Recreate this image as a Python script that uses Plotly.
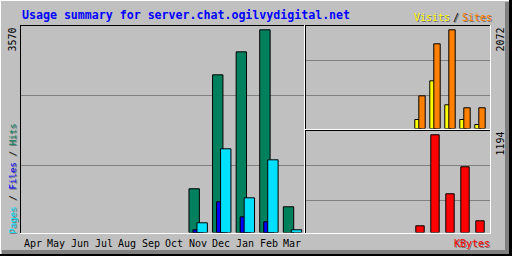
import plotly.graph_objects as go

# ---------------- data ----------------
months = ["Apr", "May", "Jun", "Jul", "Aug", "Sep", "Oct", "Nov", "Dec", "Jan", "Feb", "Mar"]
hits   = [None, None, None, None, None, None, None, 770, 2777, 3182, 3570, 453]
files  = [None, None, None, None, None, None, None, 48, 541, 276, 188, None]
pages  = [None, None, None, None, None, None, None, 171, 1474, 611, 1280, 48]
visits = [None, None, None, None, None, None, None, 189, 1001, 498, 189, 84]
sites  = [None, None, None, None, None, None, None, 686, 1778, 2072, 435, 435]
kbytes = [None, None, None, None, None, None, None, 82, 1194, 473, 803, 143]
max_hits, max_sites, max_kbytes = 3570, 2072, 1194
title = "Usage summary for server.chat.ogilvydigital.net"

# ---------------- style ----------------
W, H = 512, 256
BG = "#C0C0C0"
DK = "#808080"
SH = "#707070"
C_HITS, C_FILES, C_PAGES = "#00805C", "#0000FF", "#00E0FF"
C_VISITS, C_SITES, C_KB = "#FFFF00", "#FF8000", "#FF0000"
MONO = "DejaVu Sans Mono"


def px(x):
    return x / W


def py(y):
    return 1 - y / H


fig = go.Figure()
line = dict(color="black", width=1)

# main panel bars (hits, files, pages)
fig.add_trace(go.Bar(x=months, y=hits, marker=dict(color=C_HITS, line=line),
                     offset=-0.377, width=0.44, xaxis="x", yaxis="y"))
fig.add_trace(go.Bar(x=months, y=files, marker=dict(color=C_FILES, line=line),
                     offset=-0.207, width=0.44, xaxis="x", yaxis="y"))
fig.add_trace(go.Bar(x=months, y=pages, marker=dict(color=C_PAGES, line=line),
                     offset=-0.038, width=0.44, xaxis="x", yaxis="y"))
# upper right (visits, sites)
fig.add_trace(go.Bar(x=months, y=visits, marker=dict(color=C_VISITS, line=line),
                     offset=-0.247, width=0.427, xaxis="x2", yaxis="y2"))
fig.add_trace(go.Bar(x=months, y=sites, marker=dict(color=C_SITES, line=line),
                     offset=0.02, width=0.427, xaxis="x2", yaxis="y2"))
# lower right (kbytes)
fig.add_trace(go.Bar(x=months, y=kbytes, marker=dict(color=C_KB, line=line),
                     offset=-0.18, width=0.56, xaxis="x3", yaxis="y3"))

hid = dict(visible=False, showgrid=False, zeroline=False, fixedrange=True)
right_range = [-0.5, -0.5 + 184 / 15]

shapes = []


def rect(x0, y0, x1, y1, color, layer="above"):
    shapes.append(dict(type="rect", xref="paper", yref="paper",
                       x0=px(x0), x1=px(x1), y0=py(y0), y1=py(y1),
                       fillcolor=color, line=dict(width=0), layer=layer))


# gridlines
for r in (95, 165):
    rect(21, r, 304, r + 1, DK, "below")
for r in (60, 95):
    rect(306, r, 490, r + 1, DK, "below")
for r in (165, 200):
    rect(306, r, 490, r + 1, DK, "below")

# panel borders (black top/left, white bottom/right)
for (x0, y0, x1, y1) in [(20, 25, 305, 234), (305, 25, 491, 130), (305, 130, 491, 234)]:
    rect(x0, y0, x1, y0 + 1, "black")
    rect(x0, y0, x0 + 1, y1, "black")
    rect(x0, y1 - 1, x1, y1, "white")
    rect(x1 - 1, y0, x1, y1, "white")

# outer frame
rect(0, 0, 509, 1, "white")
rect(0, 0, 1, 254, "white")
rect(505, 2, 509, 254, DK)
rect(2, 250, 509, 254, DK)
rect(509, 0, 512, 256, "black")
rect(0, 254, 512, 256, "black")

ann = []


def text(x, y, s, color, size=10, xanchor="center", angle=0, shadow=False, xref="paper"):
    xx = px(x) if xref == "paper" else x
    if shadow:
        sx = px(x + 1) if xref == "paper" else x
        ann.append(dict(x=sx, y=py(y + 1), xref=xref, yref="paper", text=s,
                        showarrow=False, xanchor=xanchor, yanchor="middle",
                        textangle=angle, font=dict(family=MONO, size=size, color=SH)))
    ann.append(dict(x=xx, y=py(y), xref=xref, yref="paper", text=s,
                    showarrow=False, xanchor=xanchor, yanchor="middle",
                    textangle=angle, font=dict(family=MONO, size=size, color=color)))


text(20, 15, "<b>" + title + "</b>", "#0000FF", size=11.6, xanchor="left")
text(411.5, 17, "Visits", C_VISITS, xanchor="left", shadow=True)
text(450.5, 17, "/", "black", xanchor="left", shadow=True)
text(460, 17, "Sites", C_SITES, xanchor="left", shadow=True)
text(472, 243, "KBytes", C_KB, shadow=True)
text(12, 39.5, str(max_hits), "black", angle=-90)
text(500, 39.5, str(max_sites), "black", angle=-90)
text(500, 143.5, str(max_kbytes), "black", angle=-90)

# vertical legend Pages / Files / Hits
lab = ("<span style='color:%s'>Pages</span> / <span style='color:%s'>Files</span>"
       " / <span style='color:%s'>Hits</span>") % (C_PAGES, C_FILES, C_HITS)
ann.append(dict(x=px(12.8), y=py(179), xref="paper", yref="paper",
                text="Pages / Files / Hits", showarrow=False, textangle=-90,
                xanchor="center", yanchor="middle",
                font=dict(family=MONO, size=9.2, color=SH)))
ann.append(dict(x=px(11.8), y=py(178), xref="paper", yref="paper",
                text=lab, showarrow=False, textangle=-90,
                xanchor="center", yanchor="middle",
                font=dict(family=MONO, size=9.2, color="black")))

# month labels
for m in months:
    ann.append(dict(x=m, y=py(243), xref="x", yref="paper", text=m, showarrow=False,
                    xanchor="center", yanchor="middle",
                    font=dict(family=MONO, size=10, color="black")))

fig.update_layout(
    width=W, height=H, margin=dict(l=0, r=0, t=0, b=0),
    paper_bgcolor=BG, plot_bgcolor=BG, showlegend=False, barmode="overlay",
    xaxis=dict(hid, domain=[px(21), px(304)], range=[-0.5, 11.5], type="category",
               anchor="y"),
    yaxis=dict(hid, domain=[py(232.5), py(26)], range=[0, 3637], anchor="x"),
    xaxis2=dict(hid, domain=[px(306), px(490)], range=right_range, type="category",
                anchor="y2"),
    yaxis2=dict(hid, domain=[py(128.5), py(26)], range=[0, 2152], anchor="x2"),
    xaxis3=dict(hid, domain=[px(306), px(490)], range=right_range, type="category",
                anchor="y3"),
    yaxis3=dict(hid, domain=[py(232.5), py(131)], range=[0, 1240], anchor="x3"),
    shapes=shapes, annotations=ann,
)

fig.write_html("out.html")
